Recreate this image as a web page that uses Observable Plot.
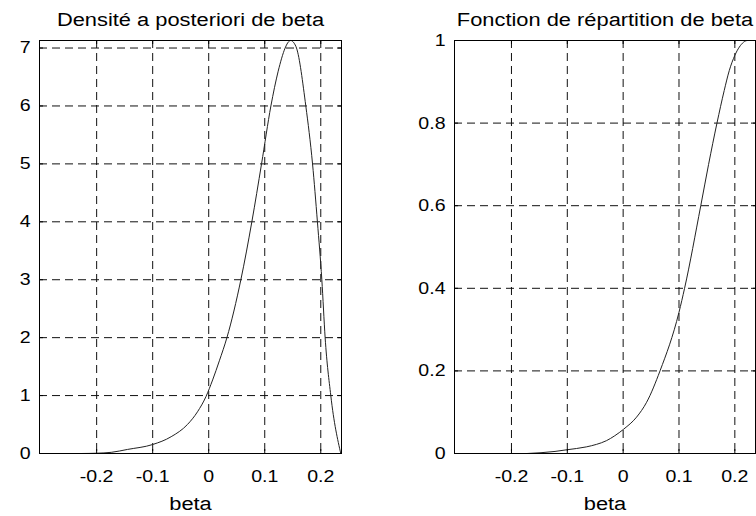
<!DOCTYPE html>
<html>
<head>
<meta charset="utf-8">
<script src="https://cdn.jsdelivr.net/npm/d3@7"></script>
<script src="https://cdn.jsdelivr.net/npm/@observablehq/plot@0.6"></script>
<style>
  body { margin: 0; background: #fff; }
  #fig { position: relative; width: 756px; height: 516px; overflow: hidden; background: #fff; }
  #fig svg { position: absolute; top: 0; }
</style>
</head>
<body>
<div id="fig"></div>
<script>
// Posterior density of beta
const densityBeta  = [-0.227, -0.2, -0.174, -0.145, -0.1, -0.067, -0.038, -0.02, -0.005, 0.007, 0.019, 0.0325, 0.0574, 0.077, 0.0943, 0.111, 0.124, 0.1364, 0.141, 0.1466, 0.152, 0.1567, 0.1733, 0.1853, 0.194, 0.2019, 0.2078, 0.2179, 0.2357];
const densityValue = [0, 0.005, 0.02, 0.07, 0.155, 0.29, 0.5, 0.72, 0.98, 1.27, 1.6, 2.0, 3.0, 4.0, 5.0, 6.0, 6.6, 7.0, 7.09, 7.13, 7.09, 7.0, 6.0, 5.0, 4.0, 3.0, 2.0, 1.0, 0];

// Cumulative distribution of beta
const cdfBeta  = [-0.172, -0.122, -0.101, -0.066, -0.048, -0.03, -0.015, 0.001, 0.024, 0.042, 0.066, 0.1, 0.11, 0.139, 0.153, 0.168, 0.181, 0.19, 0.2, 0.208, 0.223, 0.237];
const cdfValue = [0, 0.005, 0.009, 0.016, 0.022, 0.031, 0.043, 0.059, 0.088, 0.124, 0.2, 0.342, 0.4, 0.6, 0.7, 0.8, 0.879, 0.927, 0.964, 0.984, 1.0, 1.0];

// Tick labels
const xTicks = [-0.2, -0.1, 0, 0.1, 0.2];
const densityTicks = [0, 1, 2, 3, 4, 5, 6, 7];
const cdfTicks = [0, 0.2, 0.4, 0.6, 0.8, 1];

const xDomain = [-0.302, 0.237];
const densityMax = 7.13;

const densityRows = densityBeta.map((b, i) => ({beta: b, value: densityValue[i]}));
const cdfRows = cdfBeta.map((b, i) => ({beta: b, value: cdfValue[i]}));

const H = 516, MT = 40, MB = 63, ML = 39;
const TEXT_STRETCH = 1.15;

function panel({rows, yDomain, yTicks, title, left, width, marginRight}) {
  const plotW = width - ML - marginRight;
  const plotH = H - MT - MB;
  const dash = {stroke: "#111", strokeDasharray: "8,5"};
  const svg = Plot.plot({
    width, height: H,
    marginLeft: ML, marginRight, marginTop: MT, marginBottom: MB,
    x: {domain: xDomain},
    y: {domain: yDomain},
    style: {fontFamily: "'Liberation Sans', Arial, sans-serif", color: "#000", background: "transparent", overflow: "visible"},
    marks: [
      // dashed grid
      Plot.ruleX(xTicks, {x: d => d, ...dash}),
      Plot.ruleY(yTicks, {y: d => d, ...dash}),
      // curve
      Plot.line(rows, {x: "beta", y: "value", stroke: "#222", strokeWidth: 1, curve: "monotone-x"}),
      // inward tick marks on all four sides
      Plot.ruleX(xTicks, {x: d => d, stroke: "#000", insetTop: plotH - 4}),
      Plot.ruleX(xTicks, {x: d => d, stroke: "#000", insetBottom: plotH - 4}),
      Plot.ruleY(yTicks, {y: d => d, stroke: "#000", insetRight: plotW - 4}),
      Plot.ruleY(yTicks, {y: d => d, stroke: "#000", insetLeft: plotW - 4}),
      Plot.frame({stroke: "#000"}),
      // tick labels
      Plot.axisX(xTicks, {tickSize: 0, tickPadding: 16, fontSize: 17, tickFormat: String, label: null}),
      Plot.axisY(yTicks, {tickSize: 0, tickPadding: 9, fontSize: 17, tickFormat: String, label: null}),
      // axis label and title
      Plot.text(["beta"], {text: d => d, frameAnchor: "bottom", lineAnchor: "bottom", dy: 56, fontSize: 19}),
      Plot.text([title], {text: d => d, frameAnchor: "top", lineAnchor: "bottom", dy: -14.5, fontSize: 19})
    ]
  });
  // slightly wide lettering
  svg.querySelectorAll("text").forEach(t => {
    const tr = t.getAttribute("transform") || "";
    t.setAttribute("transform", `${tr} scale(${TEXT_STRETCH},1)`);
  });
  svg.style.left = left + "px";
  document.getElementById("fig").appendChild(svg);
}

panel({rows: densityRows, yDomain: [0, densityMax], yTicks: densityTicks,
       title: "Densité a posteriori de beta", left: 0, width: 378, marginRight: 37});
panel({rows: cdfRows, yDomain: [0, 1], yTicks: cdfTicks,
       title: "Fonction de répartition de beta", left: 415, width: 341, marginRight: 1});
</script>
</body>
</html>
